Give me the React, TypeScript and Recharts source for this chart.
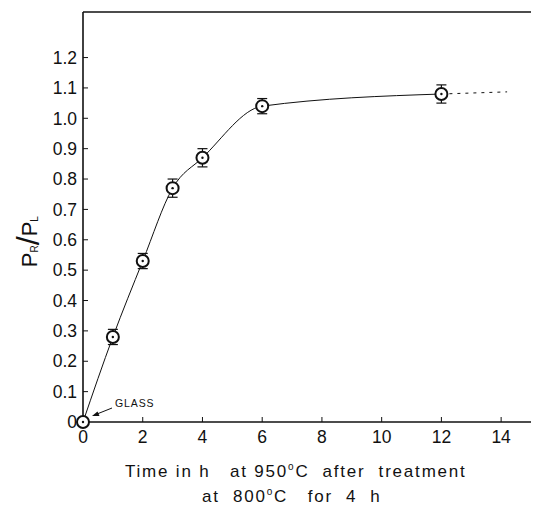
import { ComposedChart, Line, XAxis, YAxis, ErrorBar, ReferenceDot } from 'recharts';

// measured points, time at 950 °C (h) vs P_R/P_L
const hours = [0, 1, 2, 3, 4, 6, 12];
const ratio = [0, 0.28, 0.53, 0.77, 0.87, 1.04, 1.08];
const ratioErr = [0, 0.025, 0.025, 0.03, 0.03, 0.025, 0.03];

// dashed extrapolation past the last point
const extHours = [12, 14.2];
const extRatio = [1.08, 1.087];

const xTicks = [0, 2, 4, 6, 8, 10, 12, 14];
const yTicks = [0, 0.1, 0.2, 0.3, 0.4, 0.5, 0.6, 0.7, 0.8, 0.9, 1.0, 1.1, 1.2];

const ink = '#111';
const font = '"Liberation Sans", Arial, sans-serif';

const mainData = hours.map((h, i) => ({ h, ratio: ratio[i], err: ratioErr[i] }));
const extData = extHours.map((h, i) => ({ h, ratio: extRatio[i] }));

const RingDot = (props: any) => {
  const { cx, cy, index } = props;
  if (cx == null || cy == null) return null;
  return (
    <g key={`dot-${index}`}>
      <circle cx={cx} cy={cy} r={6} fill="#fff" stroke={ink} strokeWidth={2} />
      <circle cx={cx} cy={cy} r={1.2} fill={ink} />
    </g>
  );
};

const GlassNote = (props: any) => {
  const { cx, cy } = props;
  if (cx == null || cy == null) return null;
  return (
    <g>
      <line x1={cx + 29} y1={cy - 14} x2={cx + 14} y2={cy - 8} stroke={ink} strokeWidth={1} />
      <polygon
        points={`${cx + 9},${cy - 6} ${cx + 16.5},${cy - 6} ${cx + 14.5},${cy - 10.6}`}
        fill={ink}
      />
      <text x={cx + 32} y={cy - 15} fontSize={10.5} fontFamily={font} fill={ink} letterSpacing={0.9}>
        GLASS
      </text>
    </g>
  );
};

const RatioLabel = (props: any) => {
  const { viewBox } = props;
  const cx = viewBox.x + 31;
  const cy = viewBox.y + viewBox.height * 0.56;
  return (
    <text
      x={cx}
      y={cy}
      transform={`rotate(-90 ${cx} ${cy})`}
      textAnchor="middle"
      dominantBaseline="middle"
      fontFamily={font}
      fontSize={22}
      fill={ink}
    >
      P<tspan fontSize={10} dy={4}>R</tspan>
      <tspan dy={-4} fontSize={32}>/</tspan>P<tspan fontSize={10} dy={4}>L</tspan>
    </text>
  );
};

const TimeLabel = (props: any) => {
  const { viewBox } = props;
  const cx = viewBox.x + viewBox.width * 0.475;
  const style = { whiteSpace: 'pre' as const };
  return (
    <g fontFamily={font} fontSize={17} fill={ink} letterSpacing={1.8}>
      <text x={cx} y={viewBox.y + 55} textAnchor="middle" style={style}>
        {'Time in h   at 950'}
        <tspan dy={-7} fontSize={10}>o</tspan>
        <tspan dy={7}>{'C  after  treatment'}</tspan>
      </text>
      <text x={cx - 4} y={viewBox.y + 80} textAnchor="middle" style={style}>
        {'at  800'}
        <tspan dy={-7} fontSize={10}>o</tspan>
        <tspan dy={7}>{'C   for  4  h'}</tspan>
      </text>
    </g>
  );
};

const tickStyle = { fontFamily: font, fontSize: 17.5, fill: ink };
const axisLine = { stroke: ink, strokeWidth: 1.6 };
const tickLine = { stroke: ink, strokeWidth: 1 };

export default function App() {
  return (
    <div style={{ position: 'absolute', left: 0, top: 0, background: '#fff' }}>
      <ComposedChart width={533} height={516} margin={{ top: 11, right: 2, left: 0, bottom: 0 }}>
        <XAxis
          xAxisId="b"
          type="number"
          dataKey="h"
          domain={[0, 15]}
          ticks={xTicks}
          height={94}
          axisLine={axisLine}
          tickLine={tickLine}
          tickSize={-5}
          tickMargin={14}
          tick={tickStyle}
          label={<TimeLabel />}
        />
        <XAxis
          xAxisId="t"
          orientation="top"
          type="number"
          dataKey="h"
          domain={[0, 15]}
          ticks={xTicks}
          height={1}
          axisLine={axisLine}
          tickLine={tickLine}
          tickSize={-5}
          tick={false}
        />
        <YAxis
          yAxisId="l"
          type="number"
          domain={[0, 1.35]}
          ticks={yTicks}
          width={83}
          axisLine={axisLine}
          tickLine={tickLine}
          tickSize={-5}
          tickMargin={11}
          tick={tickStyle}
          tickFormatter={(v: number) => (v === 0 ? '0' : v.toFixed(1))}
          label={<RatioLabel />}
        />
        <YAxis
          yAxisId="r"
          orientation="right"
          type="number"
          domain={[0, 1.35]}
          ticks={yTicks}
          width={0}
          axisLine={axisLine}
          tickLine={tickLine}
          tickSize={-5}
          tick={false}
        />
        <Line
          xAxisId="b"
          yAxisId="l"
          data={extData}
          dataKey="ratio"
          type="linear"
          stroke={ink}
          strokeWidth={1}
          strokeDasharray="3 5"
          dot={false}
          activeDot={false}
          isAnimationActive={false}
        />
        <Line
          xAxisId="b"
          yAxisId="l"
          data={mainData}
          dataKey="ratio"
          type="monotone"
          stroke={ink}
          strokeWidth={1}
          dot={RingDot}
          activeDot={false}
          isAnimationActive={false}
        >
          <ErrorBar dataKey="err" direction="y" width={5} stroke={ink} strokeWidth={1.2} />
        </Line>
        <ReferenceDot xAxisId="b" yAxisId="l" x={0} y={0} r={0} shape={GlassNote} />
      </ComposedChart>
    </div>
  );
}
